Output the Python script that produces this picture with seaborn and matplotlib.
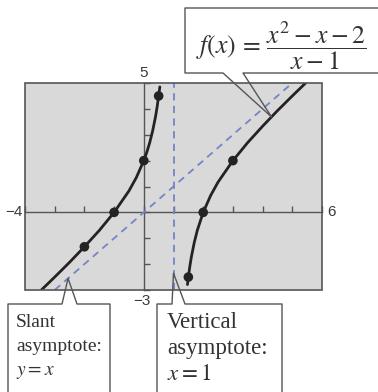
import numpy as np
import matplotlib
matplotlib.use("Agg")
import matplotlib.pyplot as plt
import seaborn as sns
from matplotlib.lines import Line2D
from matplotlib.patches import Rectangle

# viewing window and tick positions
x_min, x_max = -4, 6
y_min, y_max = -3, 5
x_ticks = list(range(-4, 7))
y_ticks = list(range(-3, 6))

# branches of f(x) = (x^2 - x - 2)/(x - 1)
left_x = [-3.45, -3.0, -2.5, -2.0, -1.5, -1.0, -0.5, -0.25, 0.0, 0.1, 0.2, 0.3, 0.4, 0.45, 0.5, 0.54]
left_y = [-3.0, -2.5, -1.93, -1.33, -0.7, 0.0, 0.83, 1.35, 2.0, 2.32, 2.7, 3.16, 3.73, 4.09, 4.5, 4.85]
right_x = [1.47, 1.5, 1.55, 1.6, 1.7, 1.8, 2.0, 2.25, 2.5, 3.0, 3.5, 4.0, 4.5, 5.0, 5.45]
right_y = [-2.79, -2.5, -2.09, -1.73, -1.16, -0.7, 0.0, 0.65, 1.17, 2.0, 2.7, 3.33, 3.93, 4.5, 5.0]

# marked points
dot_x = [-2, -1, 0, 0.5, 1.5, 2, 3]
dot_y = [-1.33, 0, 2, 4.5, -2.5, 0, 2]

# asymptotes
slant_x = [-3, 5]
slant_y = [-3, 5]
vert_x = [1, 1]
vert_y = [-3, 5]

sns.set_style("white")
plt.rcParams["font.family"] = ["Liberation Sans", "DejaVu Sans"]
plt.rcParams["mathtext.fontset"] = "stix"

W, H = 378, 392
fig = plt.figure(figsize=(W / 100, H / 100), dpi=100)
fig.patch.set_facecolor("white")
ax = fig.add_axes([25 / W, 1 - 290 / H, 297 / W, 207 / H])
ax.set_facecolor("#d9d9d9")
ax.set_xlim(x_min, x_max)
ax.set_ylim(y_min, y_max)

axis_col = "#555555"
for s in ["top", "right"]:
    ax.spines[s].set_visible(False)
ax.spines["left"].set_position(("data", 0))
ax.spines["bottom"].set_position(("data", 0))
ax.spines["left"].set_color(axis_col)
ax.spines["bottom"].set_color(axis_col)
ax.spines["left"].set_linewidth(1.0)
ax.spines["bottom"].set_linewidth(1.0)
ax.set_xticks(x_ticks)
ax.set_yticks(y_ticks)
ax.tick_params(direction="in", length=4.5, width=1.0, color=axis_col,
               labelbottom=False, labelleft=False, left=True, bottom=True)
ax.add_patch(Rectangle((0, 0), 1, 1, transform=ax.transAxes, fill=False,
                       edgecolor=axis_col, lw=1.2, zorder=5, clip_on=False))

dash_col = "#7484c8"
sns.lineplot(x=slant_x, y=slant_y, ax=ax, color=dash_col, lw=1.3, estimator=None, zorder=3)
sns.lineplot(x=vert_x, y=vert_y, ax=ax, color=dash_col, lw=1.3, estimator=None,
             sort=False, zorder=3)
ax.lines[-2].set_linestyle((0, (4, 3)))
ax.lines[-1].set_linestyle((0, (4, 3)))

curve_col = "#232323"
sns.lineplot(x=left_x, y=left_y, ax=ax, color=curve_col, lw=2.0, estimator=None, zorder=4)
sns.lineplot(x=right_x, y=right_y, ax=ax, color=curve_col, lw=2.0, estimator=None, zorder=4)
sns.scatterplot(x=dot_x, y=dot_y, ax=ax, color=curve_col, s=48, edgecolor="none", zorder=6)

# window labels
lab_kw = dict(fontsize=11, color="#3a3a3a")
ax.annotate("5", (0, y_max), xytext=(0, 2), textcoords="offset points",
            ha="center", va="bottom", **lab_kw)
ax.annotate("\u22123", (0, y_min), xytext=(-1, -3), textcoords="offset points",
            ha="center", va="top", **lab_kw)
ax.annotate("\u22124", (x_min, 0), xytext=(-2, 0), textcoords="offset points",
            ha="right", va="center", **lab_kw)
ax.annotate("6", (x_max, 0), xytext=(4, 0), textcoords="offset points",
            ha="left", va="center", **lab_kw)

# callouts (pixel layout, apex taken from data)
fig.canvas.draw()


def to_fig(px, py):
    return px / W, 1 - py / H


def apex(xd, yd):
    dx, dy = ax.transData.transform((xd, yd))
    return fig.transFigure.inverted().transform((dx, dy))


def callout(box, outline):
    l, t, r, b = box
    x0, y0 = to_fig(l, b)
    x1, y1 = to_fig(r, t)
    fig.add_artist(Rectangle((x0, y0), x1 - x0, y1 - y0, transform=fig.transFigure,
                             facecolor="white", edgecolor="none", zorder=10))
    xs, ys = zip(*outline)
    fig.add_artist(Line2D(xs, ys, transform=fig.transFigure, color="#555555",
                          lw=1.0, zorder=11))


ap = apex(4.3, 3.69)
callout((185, 8, 400, 73),
        [to_fig(400, 8), to_fig(185, 8), to_fig(185, 73), to_fig(223, 73), ap,
         to_fig(243, 73), to_fig(400, 73)])
ap = apex(-2.55, -2.55)
callout((8, 304, 110, 400),
        [to_fig(8, 400), to_fig(8, 304), to_fig(62, 304), ap, to_fig(77, 304),
         to_fig(110, 304), to_fig(110, 400)])
ap = apex(1, -2.35)
callout((157, 304, 282, 400),
        [to_fig(157, 400), to_fig(157, 304), to_fig(172, 304), ap, to_fig(185, 304),
         to_fig(282, 304), to_fig(282, 400)])

serif = ["Liberation Serif", "DejaVu Serif"]
txt_col = "#333333"
fig.text(*to_fig(196, 46), r"$f(x)\,=\,\dfrac{x^2 - x - 2}{x - 1}$", fontsize=18.5,
         ha="left", va="center", color=txt_col, zorder=12)
fig.text(*to_fig(16, 314), "Slant\nasymptote:\n$y = x$", fontsize=14, family=serif,
         ha="left", va="top", color=txt_col, linespacing=1.55, zorder=12)
fig.text(*to_fig(167, 312), "Vertical\nasymptote:\n$x = 1$", fontsize=16.5, family=serif,
         ha="left", va="top", color=txt_col, linespacing=1.31, zorder=12)

fig.savefig("out.png", dpi=100)
